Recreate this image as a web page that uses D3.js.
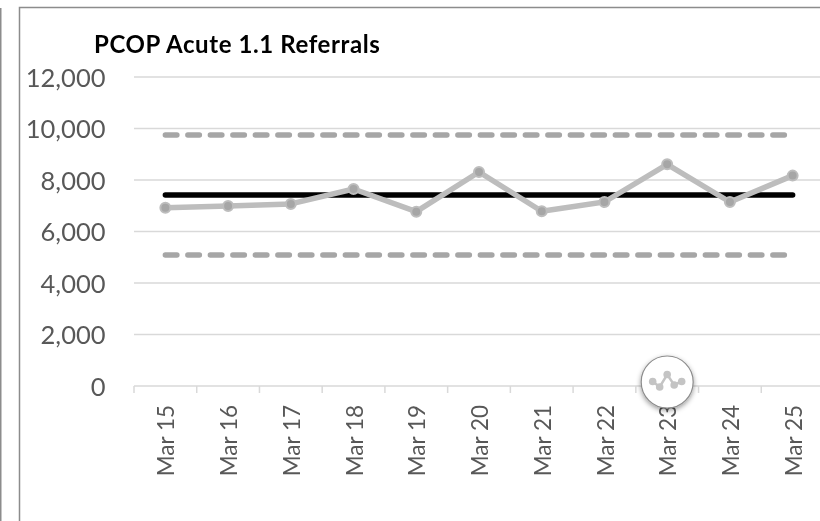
<!DOCTYPE html>
<html><head><meta charset="utf-8">
<script src="https://cdn.jsdelivr.net/npm/d3@7"></script>
<style>html,body{margin:0;padding:0;background:#fff;overflow:hidden}svg{display:block}text{font-family:Lato,Carlito,sans-serif}</style>
</head><body><svg id="c" width="820" height="521"></svg>
<script>
const chartTitle = "PCOP Acute 1.1 Referrals";
const categories = ["Mar 15","Mar 16","Mar 17","Mar 18","Mar 19","Mar 20","Mar 21","Mar 22","Mar 23","Mar 24","Mar 25"];
const referrals = [6920,6990,7070,7650,6770,8310,6785,7145,8610,7145,8170];
const meanValue = 7420;
const upperLimit = 9750;
const lowerLimit = 5090;
const yTicks = [0,2000,4000,6000,8000,10000,12000];

const svg = d3.select("#c");
const defs = svg.append("defs");
const soft = defs.append("filter").attr("id","soft").attr("x","-5%").attr("y","-5%").attr("width","110%").attr("height","110%");
soft.append("feGaussianBlur").attr("stdDeviation",0.4);
const sh = defs.append("filter").attr("id","sh").attr("x","-30%").attr("y","-30%").attr("width","160%").attr("height","160%");
sh.append("feDropShadow").attr("dx",0).attr("dy",2).attr("stdDeviation",2.5).attr("flood-color","#000").attr("flood-opacity",0.4);

const root = svg.append("g").attr("filter","url(#soft)");
root.append("rect").attr("x",-1).attr("y",-1).attr("width",822).attr("height",523).attr("fill","#fff").attr("stroke","none");
// outer frames
root.append("line").attr("x1",0.5).attr("x2",0.5).attr("y1",8).attr("y2",521).attr("stroke","#8c8c8c").attr("stroke-width",2);
root.append("path").attr("d","M19.5,521V7.5H821").attr("fill","none").attr("stroke","#8c8c8c").attr("stroke-width",1.5);

const x = d3.scaleBand().domain(categories).range([134,824]);
const y = d3.scaleLinear().domain([0,12000]).range([386,77]);
const cx = d => x(d)+x.bandwidth()/2;

// gridlines
root.append("g").selectAll("line").data(yTicks).join("line")
  .attr("x1",134).attr("x2",821).attr("y1",d=>y(d)).attr("y2",d=>y(d))
  .attr("stroke","#d9d9d9").attr("stroke-width",1.5);

// y axis
const yAxis = d3.axisLeft(y).tickValues(yTicks).tickFormat(d3.format(",")).tickSize(0).tickPadding(0);
const gy = root.append("g").attr("transform","translate(105.5,1)").call(yAxis);
gy.select(".domain").remove();
gy.selectAll("text").attr("font-size",25.5).attr("fill","#595959").attr("dy","0.32em");

// x axis
const xAxis = d3.axisBottom(x).tickSize(0).tickFormat(d=>d);
const gx = root.append("g").attr("transform","translate(1,386)").call(xAxis);
gx.select(".domain").remove();
gx.selectAll("text").attr("font-size",22.5).attr("fill","#595959")
  .attr("transform","rotate(-90)").attr("text-anchor","end").attr("x",-19).attr("y",0).attr("dy","0.36em");
root.append("g").selectAll("line").data(categories.concat([null])).join("line")
  .attr("x1",(d,i)=>x.step()*i+134).attr("x2",(d,i)=>x.step()*i+134)
  .attr("y1",386).attr("y2",393).attr("stroke","#d9d9d9").attr("stroke-width",1.5);

// limit lines
const first = categories[0], last = categories[categories.length-1];
[upperLimit,lowerLimit].forEach(v=>{
  root.append("line").attr("x1",cx(first)).attr("x2",cx(last)).attr("y1",y(v)).attr("y2",y(v))
    .attr("stroke","#a6a6a6").attr("stroke-width",5.5).attr("stroke-linecap","round").attr("stroke-dasharray","11.5 11");
});
root.append("line").attr("x1",cx(first)).attr("x2",cx(last)).attr("y1",y(meanValue)).attr("y2",y(meanValue))
  .attr("stroke","#000").attr("stroke-width",5.5).attr("stroke-linecap","round");

// series
const line = d3.line().x((d,i)=>cx(categories[i])).y(d=>y(d));
root.append("path").attr("d",line(referrals)).attr("fill","none").attr("stroke","#bdbdbd").attr("stroke-width",5.5).attr("stroke-linejoin","round");
root.append("g").selectAll("circle").data(referrals).join("circle")
  .attr("cx",(d,i)=>cx(categories[i])).attr("cy",d=>y(d)).attr("r",5)
  .attr("fill","#a6a6a6").attr("stroke","#bdbdbd").attr("stroke-width",2);

// title
root.append("text").attr("x",94).attr("y",52.5).attr("font-size",24).attr("letter-spacing",0.6).attr("font-weight",700).attr("fill","#000").text(chartTitle);

// badge on the Mar 23 column
const badge = root.append("g").attr("transform",`translate(${cx("Mar 23")},382)`);
badge.append("circle").attr("r",26).attr("fill","#fff").attr("stroke","#8c8c8c").attr("stroke-width",1.2).attr("filter","url(#sh)");
const iconX = [-14.5,-7.5,0,7,14.5], iconY = [-0.5,5,-7.5,3,-0.5];
const iconPts = iconX.map((v,i)=>[v,iconY[i]]);
badge.append("path").attr("d",d3.line()(iconPts)).attr("fill","none").attr("stroke","#c4c4c4").attr("stroke-width",2.5);
badge.selectAll(".dot").data(iconPts).join("circle").attr("class","dot")
  .attr("cx",d=>d[0]).attr("cy",d=>d[1]).attr("r",3.8).attr("fill","#c4c4c4");
</script></body></html>
